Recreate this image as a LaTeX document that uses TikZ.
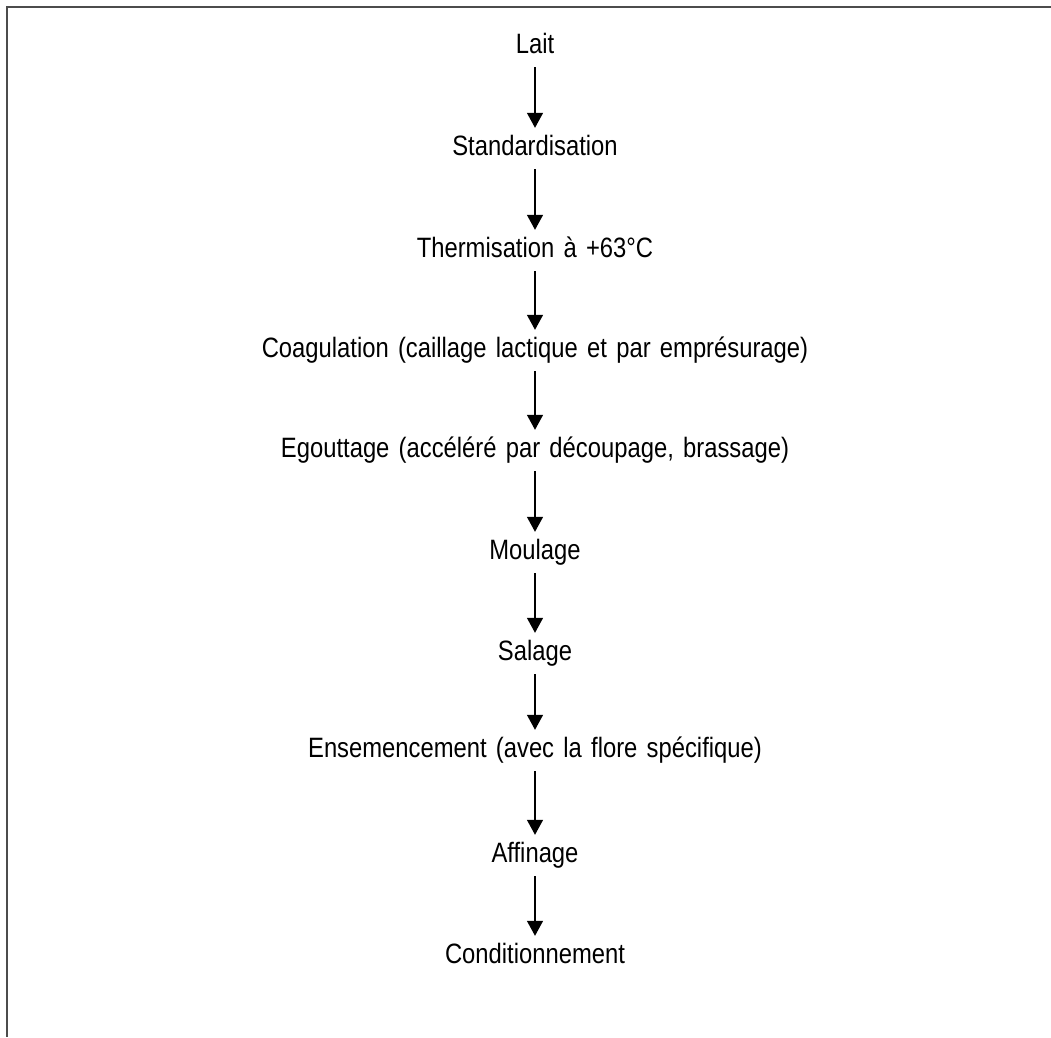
\documentclass[tikz,border=0pt]{standalone}
\usepackage{fontspec}
\setmainfont{Liberation Sans}[FakeStretch=0.85,WordSpace=1.4]
\usetikzlibrary{arrows.meta}

\begin{document}
\begin{tikzpicture}[x=1pt,y=-1pt,
		etape/.style={inner sep=0pt,text height=20pt,text depth=6pt,anchor=base,font=\fontsize{28}{32}\selectfont},
		fleche/.style={-{Triangle[width=16pt,length=15pt]},line width=1.3pt,shorten <=8pt,shorten >=7pt}]
	\useasboundingbox (0,0) rectangle (1051,1037);
	
	% cadre
	\draw[line width=2.6pt,black!70] (1051,7) -- (7,7) -- (7,1037);
	
	% etapes
	\node[etape] (lait) at (535,53) {Lait};
	\node[etape] (stand) at (535,155) {Standardisation};
	\node[etape] (therm) at (535,257) {Thermisation à +63°C};
	\node[etape] (coag) at (535,357) {Coagulation (caillage lactique et par emprésurage)};
	\node[etape] (egout) at (535,457) {Egouttage (accéléré par découpage, brassage)};
	\node[etape] (moul) at (535,559) {Moulage};
	\node[etape] (sal) at (535,660) {Salage};
	\node[etape] (ensem) at (535,757) {Ensemencement (avec la flore spécifique)};
	\node[etape] (affin) at (535,862) {Affinage};
	\node[etape] (cond) at (535,963) {Conditionnement};
	
	% fleches
	\foreach \a/\b in {lait/stand,stand/therm,therm/coag,coag/egout,egout/moul,moul/sal,sal/ensem,ensem/affin,affin/cond}
		\draw[fleche] (\a) -- (\b);
\end{tikzpicture}
\end{document}
